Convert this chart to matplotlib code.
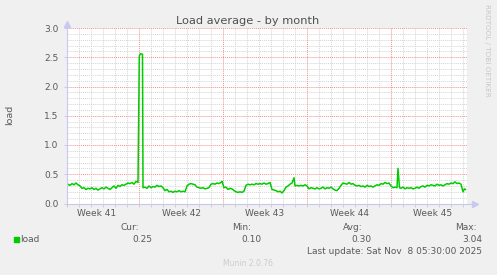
import matplotlib
matplotlib.use('Agg')
import matplotlib.pyplot as plt

# hours since start of graph (33.3 days shown)
hours = [0, 2, 6, 10, 14, 18, 22, 26, 30, 34,
         38, 42, 46, 50, 54, 58, 62, 66, 70, 74,
         78, 82, 86, 90, 94, 98, 102, 106, 110, 114,
         118, 122, 126, 130, 134, 138, 142, 144.6, 147, 151,
         152, 156, 160, 164, 168, 172, 176, 180, 184, 188,
         192, 196, 200, 204, 208, 212, 216, 220, 224, 228,
         232, 236, 240, 244, 248, 252, 256, 260, 264, 268,
         272, 276, 280, 284, 288, 292, 296, 300, 304, 308,
         310, 314, 318, 322, 326, 330, 334, 338, 342, 346,
         350, 354, 358, 362, 366, 370, 374, 378, 382, 386,
         390, 394, 398, 402, 406, 410, 414, 418, 422, 426,
         430, 434, 438, 442, 446, 450, 454, 456, 460, 464,
         468, 472, 476, 480, 484, 488, 492, 496, 500, 504,
         508, 512, 516, 520, 524, 528, 532, 536, 540, 544,
         548, 552, 556, 560, 564, 568, 572, 576, 580, 584,
         588, 592, 596, 600, 604, 608, 612, 616, 620, 624,
         628, 632, 636, 640, 644, 648, 652, 656, 660, 662,
         665, 668, 672, 676, 680, 684, 688, 692, 696, 700,
         704, 708, 712, 716, 720, 724, 728, 732, 736, 740,
         744, 748, 752, 756, 760, 764, 768, 772, 776, 780,
         784, 788, 792, 795, 797]
load = [0.30, 0.33, 0.31, 0.34, 0.32, 0.35, 0.32, 0.30, 0.26, 0.27,
        0.24, 0.26, 0.25, 0.27, 0.24, 0.26, 0.23, 0.25, 0.27, 0.25,
        0.28, 0.26, 0.24, 0.27, 0.30, 0.26, 0.31, 0.29, 0.32, 0.31,
        0.33, 0.35, 0.34, 0.36, 0.33, 0.38, 0.36, 2.52, 2.56, 2.55,
        0.27, 0.28, 0.26, 0.30, 0.27, 0.29, 0.28, 0.31, 0.29, 0.30,
        0.27, 0.22, 0.24, 0.20, 0.21, 0.19, 0.21, 0.20, 0.22, 0.20,
        0.21, 0.20, 0.30, 0.33, 0.34, 0.33, 0.32, 0.28, 0.27, 0.26,
        0.27, 0.25, 0.26, 0.27, 0.33, 0.34, 0.33, 0.35, 0.34, 0.36,
        0.38, 0.27, 0.28, 0.24, 0.26, 0.25, 0.22, 0.20, 0.19, 0.20,
        0.19, 0.21, 0.31, 0.33, 0.32, 0.33, 0.32, 0.34, 0.33, 0.34,
        0.33, 0.35, 0.33, 0.34, 0.36, 0.24, 0.23, 0.22, 0.20, 0.21,
        0.18, 0.22, 0.28, 0.30, 0.33, 0.35, 0.44, 0.30, 0.31, 0.30,
        0.31, 0.30, 0.32, 0.30, 0.25, 0.27, 0.26, 0.25, 0.27, 0.25,
        0.26, 0.28, 0.25, 0.27, 0.26, 0.28, 0.25, 0.23, 0.22, 0.26,
        0.31, 0.35, 0.34, 0.33, 0.36, 0.33, 0.34, 0.31, 0.30, 0.31,
        0.29, 0.30, 0.28, 0.31, 0.29, 0.30, 0.28, 0.30, 0.32, 0.31,
        0.34, 0.33, 0.36, 0.34, 0.35, 0.30, 0.27, 0.28, 0.27, 0.60,
        0.27, 0.26, 0.28, 0.25, 0.27, 0.26, 0.27, 0.25, 0.26, 0.28,
        0.26, 0.29, 0.30, 0.28, 0.31, 0.30, 0.32, 0.31, 0.30, 0.33,
        0.31, 0.32, 0.30, 0.32, 0.34, 0.33, 0.35, 0.34, 0.37, 0.34,
        0.35, 0.33, 0.20, 0.25, 0.24]

week_names = ['Week 41', 'Week 42', 'Week 43', 'Week 44', 'Week 45']
week_centers = [60, 228, 396, 564, 732]
week_starts = [144, 312, 480, 648]
y_ticks = [0.0, 0.5, 1.0, 1.5, 2.0, 2.5, 3.0]

stats_names = ['Cur:', 'Min:', 'Avg:', 'Max:']
stats_vals = ['0.25', '0.10', '0.30', '3.04']

W, H = 497, 275
fig = plt.figure(figsize=(W / 100, H / 100), dpi=100, facecolor='#f0f0f0')
L, R, T, B = 67, 467, 28, 203.5
ax = fig.add_axes([L / W, 1 - B / H, (R - L) / W, (B - T) / H])
ax.set_facecolor('white')
ax.set_xlim(0, 800)
ax.set_ylim(0, 3.0)

txt = '#5a5a5a'
grid_minor = '#d4d4d4'
grid_major = '#f09090'

# minor grid (days, 0.1)
for h in range(24, 801, 24):
    if h not in week_starts:
        ax.axvline(h, color=grid_minor, lw=0.7, ls=(0, (1, 1)), zorder=1)
for k in range(1, 30):
    if k % 5:
        ax.axhline(k * 0.1, color=grid_minor, lw=0.7, ls=(0, (1, 1)), zorder=1)
# major grid (weeks, 0.5)
for h in week_starts:
    ax.axvline(h, color=grid_major, lw=0.7, ls=(0, (1, 1)), zorder=2)
for y in y_ticks[1:]:
    ax.axhline(y, color=grid_major, lw=0.7, ls=(0, (1, 1)), zorder=2)

ax.plot(hours, load, color='#00cc00', lw=1.1, zorder=3)

for s in ax.spines.values():
    s.set_visible(False)
axis_col = '#c8c8f0'
ax.plot([0, 0], [0, 3.0], color=axis_col, lw=0.8, clip_on=False, zorder=4)
ax.plot([0, 815], [0, 0], color=axis_col, lw=0.8, clip_on=False, zorder=4)
ax.plot([815], [0], marker='>', color=axis_col, ms=5, clip_on=False, zorder=4)
ax.plot([0], [3.07], marker='^', color=axis_col, ms=5, clip_on=False, zorder=4)

ax.set_yticks(y_ticks)
ax.set_yticklabels(['%.1f' % v for v in y_ticks])
ax.set_xticks(week_centers)
ax.set_xticklabels(week_names)
ax.set_xticks(range(0, 801, 24), minor=True)
ax.tick_params(axis='both', which='major', length=0, colors=txt, labelsize=6.5, pad=4)
ax.tick_params(axis='x', which='minor', length=2, width=0.7, color='#cccccc')
ax.tick_params(axis='y', which='major', length=2, width=0.7, color=axis_col, pad=4)

fig.text(248 / W, 1 - 21 / H, 'Load average - by month', ha='center', va='center',
         fontsize=8.2, color='#505050')
fig.text(10 / W, 1 - 115 / H, 'load', rotation=90, ha='center', va='center',
         fontsize=6.8, color=txt)
fig.text(487 / W, 1 - 50 / H, 'RRDTOOL / TOBI OETIKER', rotation=270, ha='center',
         va='center', fontsize=5.2, color='#c8c8c8')

# legend
fig.patches.append(plt.Rectangle((14 / W, 1 - 242 / H), 5 / W, 5 / H,
                                 transform=fig.transFigure, color='#00cc00'))
fig.text(20 / W, 1 - 239 / H, 'load', ha='left', va='center', fontsize=6.5, color=txt)
name_x = [139, 251, 363, 477]
val_x = [152, 262, 372, 482]
for nx, vx, n, v in zip(name_x, val_x, stats_names, stats_vals):
    fig.text(nx / W, 1 - 227 / H, n, ha='right', va='center', fontsize=6.5, color=txt)
    fig.text(vx / W, 1 - 239 / H, v, ha='right', va='center', fontsize=6.5, color=txt)
fig.text(482 / W, 1 - 251 / H, 'Last update: Sat Nov  8 05:30:00 2025', ha='right',
         va='center', fontsize=6.5, color=txt)
fig.text(248 / W, 1 - 263 / H, 'Munin 2.0.76', ha='center', va='center',
         fontsize=5.5, color='#cccccc')

fig.savefig('out.png', dpi=100, facecolor=fig.get_facecolor())
